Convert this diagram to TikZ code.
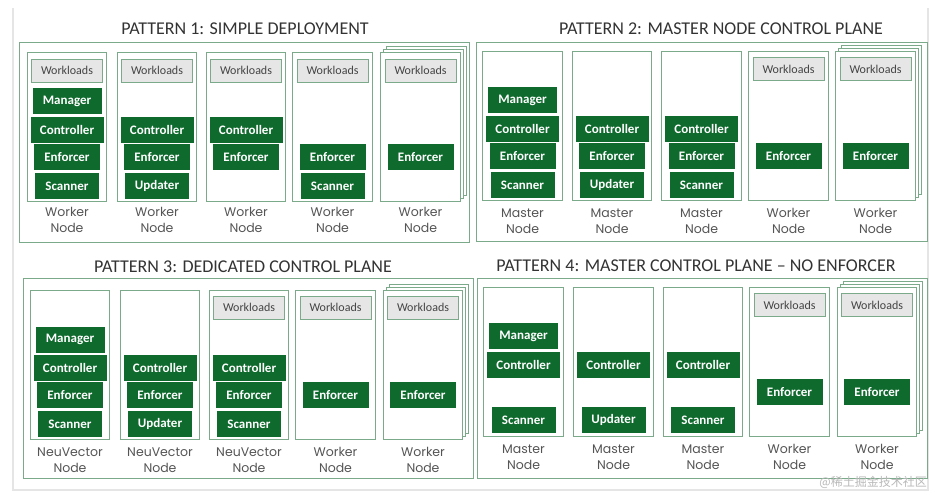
\documentclass[tikz,border=0pt]{standalone}
\usepackage{fontspec}
\setmainfont{Carlito}
\newfontfamily\lblfont{Poppins}
\newfontfamily\cjk{Noto Sans CJK SC}
\definecolor{pline}{HTML}{7AAA8A}
\definecolor{gfill}{HTML}{0E6A2D}
\definecolor{wfill}{HTML}{E6E6E6}
\definecolor{wtext}{HTML}{444444}
\definecolor{ltext}{HTML}{555555}
\definecolor{ttext}{HTML}{333333}
\tikzset{
 panel/.style={draw=pline, line width=1pt},
 colbox/.style={draw=pline, line width=0.9pt, fill=white, minimum width=79.5pt, minimum height=149pt, inner sep=0pt},
 gbox/.style={fill=gfill, draw=gfill, text=white, font=\bfseries\fontsize{13}{15}\selectfont, minimum height=25pt, inner sep=0pt},
 mgr/.style={gbox, minimum width=68pt},
 ctl/.style={gbox, minimum width=72pt},
 enf/.style={gbox, minimum width=65pt},
 scn/.style={gbox, minimum width=63pt},
 wbox/.style={fill=wfill, draw=pline, line width=0.9pt, text=wtext, minimum width=71pt, minimum height=23pt, font=\fontsize{12}{13}\selectfont, inner sep=0pt},
 lbl/.style={text=ltext, font=\lblfont\fontsize{12.5}{16}\selectfont, align=center},
 ttl/.style={text=ttext, font=\fontsize{18}{20}\selectfont},
}
\begin{document}
\begin{tikzpicture}[x=1pt,y=-1pt]
\useasboundingbox (0,0) rectangle (944,500);
\fill[white] (0,0) rectangle (944,500);
\draw[gray!20, line width=1.5pt] (13,8) -- (13,490) -- (928,490) -- (928,8);

% ---------- Pattern 1
\node[ttl] (t1) at (245,29) {PATTERN 1: SIMPLE DEPLOYMENT};
\node[panel, minimum width=450pt, minimum height=199pt, inner sep=0pt] (P1) at (244,142.5) {};
\node[colbox] (a1) at (67,126.5) {};
\node[wbox] (a1w) at (67,70.5) {Workloads};
\node[mgr] (a1m) at (67,101) {Manager};
\node[ctl] (a1c) at (67,129.5) {Controller};
\node[enf] (a1e) at (67,157) {Enforcer};
\node[scn] (a1s) at (67,186) {Scanner};
\node[lbl] (a1l) at (67,220) {Worker\\Node};

\node[colbox] (a2) at (157,126.5) {};
\node[wbox] (a2w) at (157,70.5) {Workloads};
\node[ctl] (a2c) at (157,129.5) {Controller};
\node[enf] (a2e) at (157,157) {Enforcer};
\node[scn] (a2u) at (157,186) {Updater};
\node[lbl] (a2l) at (157,220) {Worker\\Node};

\node[colbox] (a3) at (246,126.5) {};
\node[wbox] (a3w) at (246,70.5) {Workloads};
\node[ctl] (a3c) at (246,129.5) {Controller};
\node[enf] (a3e) at (246,157) {Enforcer};
\node[lbl] (a3l) at (246,220) {Worker\\Node};

\node[colbox] (a4) at (332.5,126.5) {};
\node[wbox] (a4w) at (332.5,70.5) {Workloads};
\node[enf] (a4e) at (332.5,157) {Enforcer};
\node[scn] (a4s) at (332.5,186) {Scanner};
\node[lbl] (a4l) at (332.5,220) {Worker\\Node};

\node[colbox] (a5b2) at (426.5,120.5) {};
\node[colbox] (a5b1) at (423.5,123.5) {};
\node[colbox] (a5) at (420.5,126.5) {};
\node[wbox] (a5w) at (420.5,70.5) {Workloads};
\node[enf] (a5e) at (420.5,157) {Enforcer};
\node[lbl] (a5l) at (420.5,220) {Worker\\Node};

% ---------- Pattern 2
\node[ttl] (t2) at (721,29) {PATTERN 2: MASTER NODE CONTROL PLANE};
\node[panel, minimum width=451pt, minimum height=198pt, inner sep=0pt] (P2) at (701.5,142) {};
\node[colbox] (b1) at (522.5,125.5) {};
\node[mgr] (b1m) at (522.5,100) {Manager};
\node[ctl] (b1c) at (522.5,128.5) {Controller};
\node[enf] (b1e) at (522.5,156) {Enforcer};
\node[scn] (b1s) at (522.5,185) {Scanner};
\node[lbl] (b1l) at (522.5,221) {Master\\Node};

\node[colbox] (b2) at (612,125.5) {};
\node[ctl] (b2c) at (612,128.5) {Controller};
\node[enf] (b2e) at (612,156) {Enforcer};
\node[scn] (b2u) at (612,185) {Updater};
\node[lbl] (b2l) at (612,221) {Master\\Node};

\node[colbox] (b3) at (701.5,125.5) {};
\node[ctl] (b3c) at (701.5,128.5) {Controller};
\node[enf] (b3e) at (701.5,156) {Enforcer};
\node[scn] (b3s) at (701.5,185) {Scanner};
\node[lbl] (b3l) at (701.5,221) {Master\\Node};

\node[colbox] (b4) at (788.5,125.5) {};
\node[wbox] (b4w) at (788.5,69) {Workloads};
\node[enf] (b4e) at (788.5,156) {Enforcer};
\node[lbl] (b4l) at (788.5,221) {Worker\\Node};

\node[colbox] (b5b2) at (881.5,119.5) {};
\node[colbox] (b5b1) at (878.5,122.5) {};
\node[colbox] (b5) at (875.5,125.5) {};
\node[wbox] (b5w) at (875.5,69) {Workloads};
\node[enf] (b5e) at (875.5,156) {Enforcer};
\node[lbl] (b5l) at (875.5,221) {Worker\\Node};

% ---------- Pattern 3
\node[ttl] (t3) at (243,267) {PATTERN 3: DEDICATED CONTROL PLANE};
\node[panel, minimum width=450pt, minimum height=200pt, inner sep=0pt] (P3) at (248,378) {};
\node[colbox] (c1) at (70,364.5) {};
\node[mgr] (c1m) at (70,339.5) {Manager};
\node[ctl] (c1c) at (70,367.5) {Controller};
\node[enf] (c1e) at (70,395) {Enforcer};
\node[scn] (c1s) at (70,424) {Scanner};
\node[lbl] (c1l) at (70,460) {NeuVector\\Node};

\node[colbox] (c2) at (160,364.5) {};
\node[ctl] (c2c) at (160,367.5) {Controller};
\node[enf] (c2e) at (160,395) {Enforcer};
\node[scn] (c2u) at (160,424) {Updater};
\node[lbl] (c2l) at (160,460) {NeuVector\\Node};

\node[colbox] (c3) at (249,364.5) {};
\node[wbox] (c3w) at (249,307.5) {Workloads};
\node[ctl] (c3c) at (249,367.5) {Controller};
\node[enf] (c3e) at (249,395) {Enforcer};
\node[scn] (c3s) at (249,424) {Scanner};
\node[lbl] (c3l) at (249,460) {NeuVector\\Node};

\node[colbox] (c4) at (335.5,364.5) {};
\node[wbox] (c4w) at (335.5,307.5) {Workloads};
\node[enf] (c4e) at (335.5,395) {Enforcer};
\node[lbl] (c4l) at (335.5,460) {Worker\\Node};

\node[colbox] (c5b2) at (429,358.5) {};
\node[colbox] (c5b1) at (426,361.5) {};
\node[colbox] (c5) at (423,364.5) {};
\node[wbox] (c5w) at (423,307.5) {Workloads};
\node[enf] (c5e) at (423,395) {Enforcer};
\node[lbl] (c5l) at (423,460) {Worker\\Node};

% ---------- Pattern 4
\node[ttl] (t4) at (696,266) {PATTERN 4: MASTER CONTROL PLANE -- NO ENFORCER};
\node[panel, minimum width=450pt, minimum height=200pt, inner sep=0pt] (P4) at (702,378) {};
\node[colbox] (d1) at (523.5,361.5) {};
\node[mgr] (d1m) at (523.5,336) {Manager};
\node[ctl] (d1c) at (523.5,364.5) {Controller};
\node[scn] (d1s) at (523.5,420) {Scanner};
\node[lbl] (d1l) at (523.5,457) {Master\\Node};

\node[colbox] (d2) at (613.5,361.5) {};
\node[ctl] (d2c) at (613.5,364.5) {Controller};
\node[scn] (d2u) at (613.5,420) {Updater};
\node[lbl] (d2l) at (613.5,457) {Master\\Node};

\node[colbox] (d3) at (703,361.5) {};
\node[ctl] (d3c) at (703,364.5) {Controller};
\node[scn] (d3s) at (703,420) {Scanner};
\node[lbl] (d3l) at (703,457) {Master\\Node};

\node[colbox] (d4) at (789.5,361.5) {};
\node[wbox] (d4w) at (789.5,305) {Workloads};
\node[enf] (d4e) at (789.5,392) {Enforcer};
\node[lbl] (d4l) at (789.5,457) {Worker\\Node};

\node[colbox] (d5b2) at (883,355.5) {};
\node[colbox] (d5b1) at (880,358.5) {};
\node[colbox] (d5) at (877,361.5) {};
\node[wbox] (d5w) at (877,305) {Workloads};
\node[enf] (d5e) at (877,392) {Enforcer};
\node[lbl] (d5l) at (877,457) {Worker\\Node};

\node[text=gray!55, font=\cjk\fontsize{12}{13}\selectfont, anchor=east, inner sep=0pt] (wm) at (927,482) {@稀土掘金技术社区};
\end{tikzpicture}
\end{document}
